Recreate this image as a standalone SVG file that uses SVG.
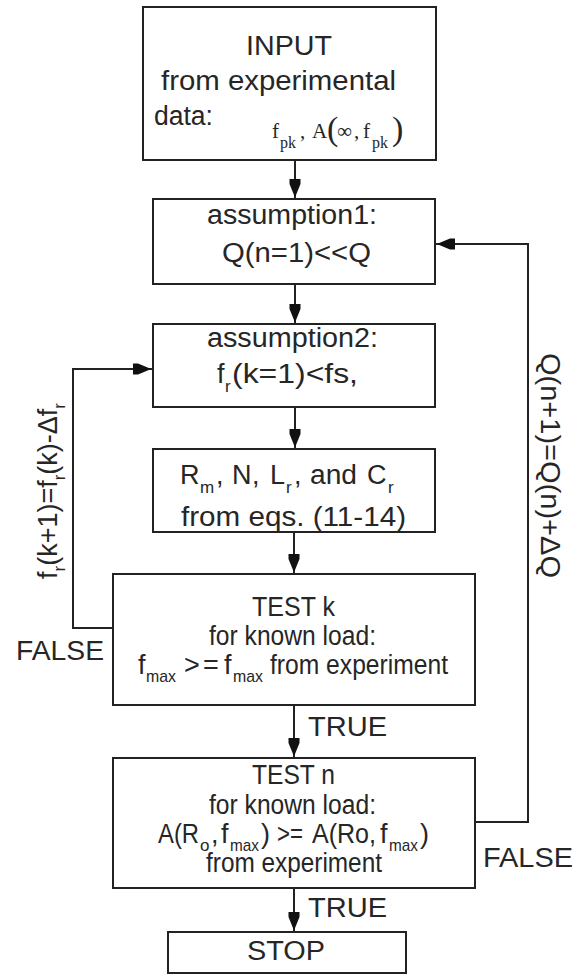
<svg xmlns="http://www.w3.org/2000/svg" width="574" height="974" viewBox="0 0 574 974">
<style>
  .box { fill: #fff; stroke: #222; stroke-width: 2; }
  .ln { fill: none; stroke: #222; stroke-width: 2; }
  text { font-family: "Liberation Sans", Arial, sans-serif; font-size: 27px; fill: #262626; }
  .sub { font-size: 17px; }
  .serif { font-family: "Liberation Serif", "Times New Roman", serif; font-size: 21px; }
  .ssub { font-family: "Liberation Serif", "Times New Roman", serif; font-size: 16px; }
  .par { font-family: "Liberation Serif", "Times New Roman", serif; font-size: 34px; }
</style>
<defs>
  <marker id="ah" markerUnits="userSpaceOnUse" markerWidth="24" markerHeight="14" viewBox="0 -7 24 14" refX="20" refY="0" orient="auto">
    <path d="M0,-5.5 L5,-5.5 L17,-0.6 L17,0.6 L5,5.5 L0,5.5 Z" fill="#111"/>
  </marker>
</defs>
<rect width="574" height="974" fill="#fff"/>

<g id="connectors">
  <path class="ln" d="M295,160 V199" marker-end="url(#ah)"/>
  <path class="ln" d="M295,284 V324" marker-end="url(#ah)"/>
  <path class="ln" d="M295,407 V449" marker-end="url(#ah)"/>
  <path class="ln" d="M294,532 V574" marker-end="url(#ah)"/>
  <path class="ln" d="M294,705 V758" marker-end="url(#ah)"/>
  <path class="ln" d="M294,888 V932" marker-end="url(#ah)"/>
  <path class="ln" d="M113,628 H73 V369 H153" marker-end="url(#ah)"/>
  <path class="ln" d="M475,822 H528 V244 H435" marker-end="url(#ah)"/>
  <text x="308" y="736" textLength="79" lengthAdjust="spacingAndGlyphs">TRUE</text>
  <text x="308" y="917" textLength="79" lengthAdjust="spacingAndGlyphs">TRUE</text>
  <text x="483" y="867" textLength="90" lengthAdjust="spacingAndGlyphs">FALSE</text>
  <text x="16" y="660" textLength="88" lengthAdjust="spacingAndGlyphs">FALSE</text>
  <text transform="translate(57,491) rotate(-90)" text-anchor="middle">f<tspan class="sub" dy="8">r</tspan><tspan dy="-8">(k+1)=f</tspan><tspan class="sub" dy="8">r</tspan><tspan dy="-8">(k)-Δf</tspan><tspan class="sub" dy="8">r</tspan></text>
  <text transform="translate(541,465) rotate(90)" x="-112" y="0" textLength="225" lengthAdjust="spacingAndGlyphs">Q(n+1)=Q(n)+ΔQ</text>
</g>

<g id="node-input">
  <rect class="box" x="143" y="7" width="293" height="153"/>
  <text x="246" y="55" textLength="86" lengthAdjust="spacingAndGlyphs">INPUT</text>
  <text x="161" y="90" textLength="235" lengthAdjust="spacingAndGlyphs">from experimental</text>
  <text x="154" y="125" textLength="59" lengthAdjust="spacingAndGlyphs">data:</text>
  <text class="serif" x="272" y="138">f</text>
  <text class="ssub" x="280" y="148">pk</text>
  <text class="serif" x="300" y="138">,</text>
  <text class="serif" x="312" y="138">A</text>
  <text class="par" x="327" y="140">(</text>
  <text class="serif" x="337" y="138">∞</text>
  <text class="serif" x="354" y="138">,</text>
  <text class="serif" x="363" y="138">f</text>
  <text class="ssub" x="372" y="148">pk</text>
  <text class="par" x="392" y="140">)</text>
</g>

<g id="node-assumption1">
  <rect class="box" x="153" y="199" width="282" height="85"/>
  <text x="207" y="224" textLength="170" lengthAdjust="spacingAndGlyphs">assumption1:</text>
  <text x="222" y="262" textLength="149" lengthAdjust="spacingAndGlyphs">Q(n=1)&lt;&lt;Q</text>
</g>

<g id="node-assumption2">
  <rect class="box" x="153" y="324" width="282" height="83"/>
  <text x="207" y="347" textLength="171" lengthAdjust="spacingAndGlyphs">assumption2:</text>
  <text x="217" y="383">f</text>
  <text class="sub" x="225" y="392">r</text>
  <text x="232" y="383" textLength="126" lengthAdjust="spacingAndGlyphs">(k=1)&lt;fs,</text>
</g>

<g id="node-equations">
  <rect class="box" x="153" y="449" width="282" height="83"/>
  <text x="180" y="484">R</text>
  <text class="sub" x="200" y="493">m</text>
  <text x="216" y="484">,</text>
  <text x="232" y="484">N</text>
  <text x="252" y="484">,</text>
  <text x="270" y="484">L</text>
  <text class="sub" x="286" y="493">r</text>
  <text x="294" y="484">,</text>
  <text x="310" y="484" textLength="47" lengthAdjust="spacingAndGlyphs">and</text>
  <text x="367" y="484">C</text>
  <text class="sub" x="388" y="493">r</text>
  <text x="181" y="526" textLength="225" lengthAdjust="spacingAndGlyphs">from eqs. (11-14)</text>
</g>

<g id="node-test-k">
  <rect class="box" x="113" y="574" width="362" height="131"/>
  <text x="252" y="616" textLength="83" lengthAdjust="spacingAndGlyphs">TEST k</text>
  <text x="209" y="645" textLength="167" lengthAdjust="spacingAndGlyphs">for known load:</text>
  <text x="138" y="674">f</text>
  <text class="sub" x="146" y="682" textLength="30" lengthAdjust="spacingAndGlyphs">max</text>
  <text x="184" y="674">&gt;</text>
  <text x="203" y="674">=</text>
  <text x="224" y="674">f</text>
  <text class="sub" x="233" y="682" textLength="30" lengthAdjust="spacingAndGlyphs">max</text>
  <text x="270" y="674" textLength="178" lengthAdjust="spacingAndGlyphs">from experiment</text>
</g>

<g id="node-test-n">
  <rect class="box" x="113" y="758" width="362" height="130"/>
  <text x="252" y="784" textLength="83" lengthAdjust="spacingAndGlyphs">TEST n</text>
  <text x="209" y="814" textLength="167" lengthAdjust="spacingAndGlyphs">for known load:</text>
  <text x="158" y="843" textLength="41" lengthAdjust="spacingAndGlyphs">A(R</text>
  <text class="sub" x="200" y="851">o</text>
  <text x="211" y="843">,</text>
  <text x="221" y="843">f</text>
  <text class="sub" x="230" y="851" textLength="29" lengthAdjust="spacingAndGlyphs">max</text>
  <text x="261" y="843">)</text>
  <text x="277" y="843" textLength="26" lengthAdjust="spacingAndGlyphs">&gt;=</text>
  <text x="312" y="843" textLength="64" lengthAdjust="spacingAndGlyphs">A(Ro,</text>
  <text x="380" y="843">f</text>
  <text class="sub" x="389" y="851" textLength="29" lengthAdjust="spacingAndGlyphs">max</text>
  <text x="420" y="843">)</text>
  <text x="206" y="872" textLength="176" lengthAdjust="spacingAndGlyphs">from experiment</text>
</g>

<g id="node-stop">
  <rect class="box" x="168" y="932" width="238" height="41"/>
  <text x="247" y="960" textLength="78" lengthAdjust="spacingAndGlyphs">STOP</text>
</g>
</svg>
